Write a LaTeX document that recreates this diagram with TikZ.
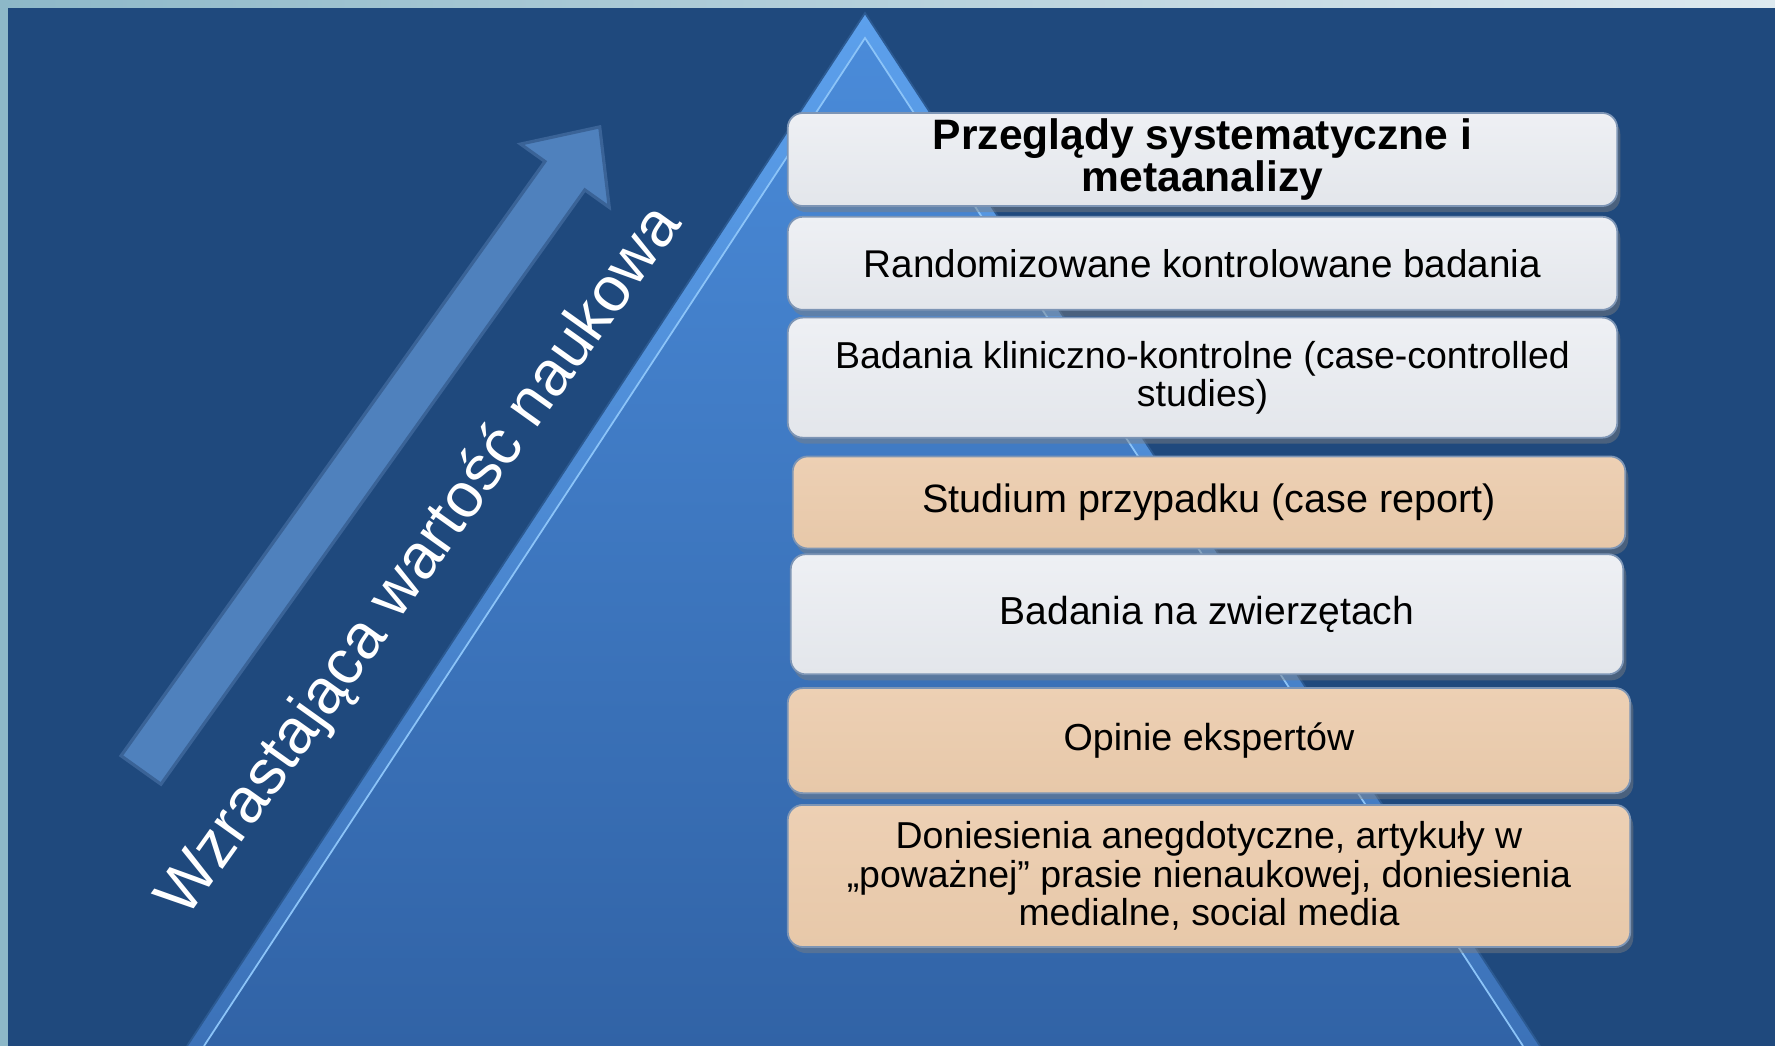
\documentclass[tikz,border=0pt]{standalone}
\usepackage{fontspec}
\setmainfont{Liberation Sans}
\usetikzlibrary{positioning, shadows}
\definecolor{slidebg}{HTML}{1F497D}
\definecolor{framel}{HTML}{8DB8C8}
\definecolor{framer}{HTML}{DDE9EF}
\definecolor{pyrouttop}{HTML}{5CA0EC}
\definecolor{pyroutbot}{HTML}{3C72B8}
\definecolor{pyrtop}{HTML}{4A8BD9}
\definecolor{pyrbot}{HTML}{3163A6}
\definecolor{pyredge}{HTML}{2C5A92}
\definecolor{pyrhi}{HTML}{8CC4F8}
\definecolor{arrowfill}{HTML}{4F81BD}
\definecolor{arrowline}{HTML}{3A6397}
\definecolor{greytop}{HTML}{EEF0F4}
\definecolor{greybot}{HTML}{E3E6EB}
\definecolor{peachtop}{HTML}{EDD0B4}
\definecolor{peachbot}{HTML}{E7C8A9}
\definecolor{boxrim}{HTML}{7D95B5}

\begin{document}
\begin{tikzpicture}[
    x=0.01cm, y=-0.01cm,
    level/.style={rectangle, rounded corners=1.5mm, draw=boxrim, line width=0.5pt, inner ysep=0pt, minimum width=8.29cm, align=center, font=\fontsize{11}{11}\selectfont, drop shadow={shadow xshift=0.3mm, shadow yshift=-0.6mm, opacity=0.45}},
    grey/.style={level, top color=greytop, bottom color=greybot},
    peach/.style={level, top color=peachtop, bottom color=peachbot}
]
\useasboundingbox (0,0) rectangle (1775,1046);

% Slide background
\fill[left color=framel, right color=framer] (0,0) rectangle (1775,1046);
\fill[slidebg] (8,8) rectangle (1775,1046);

% Pyramid
\begin{scope}
\clip (0,0) rectangle (1775,1046);
\fill[top color=pyrouttop, bottom color=pyroutbot] (865,13) -- (1540,1046) -- (187,1046) -- cycle;
\fill[top color=pyrtop, bottom color=pyrbot] (865,38) -- (1523,1046) -- (204,1046) -- cycle;
\draw[pyrhi, line width=0.5pt] (204,1046) -- (865,38) -- (1523,1046);
\draw[pyredge, line width=0.5pt] (187,1046) -- (865,13) -- (1540,1046);
\end{scope}

% Arrow and its label
\begin{scope}[shift={(141,770)}, rotate=54.5]
\draw[arrowline, fill=arrowfill, line width=0.9pt] (0,-24.5) -- (730,-24.5) -- (730,-54.5) -- (790,0) -- (730,54.5) -- (730,24.5) -- (0,24.5) -- cycle;
\end{scope}
\node[rotate=54.5, text=white, font=\fontsize{18}{20}\selectfont] (axis) at (421,562) {Wzrastająca wartość naukowa};

% Levels of evidence
\node[grey, minimum height=0.93cm, font=\bfseries\fontsize{12.1}{12.2}\selectfont] (review) at (1202.5,159.5) {Przeglądy systematyczne i\\metaanalizy};
\node[grey, minimum height=0.93cm, below=0.9mm of review] (rct) {Randomizowane kontrolowane badania};
\node[grey, minimum height=1.2cm, below=0.6mm of rct, font=\fontsize{10.65}{10.9}\selectfont] (casectrl) {Badania kliniczno-kontrolne (case-controlled\\studies)};
\node[peach, minimum height=0.92cm, minimum width=8.32cm, below=1.7mm of casectrl, xshift=0.65mm, font=\fontsize{11.25}{11.25}\selectfont] (casereport) {Studium przypadku (case report)};
\node[grey, minimum height=1.2cm, minimum width=8.32cm, below=0.4mm of casereport, xshift=-0.2mm, font=\fontsize{11.1}{11.1}\selectfont] (animal) {Badania na zwierzętach};
\node[peach, minimum height=1.05cm, minimum width=8.42cm, below=1.2mm of animal, xshift=0.2mm, font=\fontsize{10.7}{10.7}\selectfont] (expert) {Opinie ekspertów};
\node[peach, minimum height=1.42cm, minimum width=8.42cm, below=1mm of expert, font=\fontsize{10.65}{10.9}\selectfont] (anecdote) {Doniesienia anegdotyczne, artykuły w\\„poważnej” prasie nienaukowej, doniesienia\\medialne, social media};
\end{tikzpicture}
\end{document}
